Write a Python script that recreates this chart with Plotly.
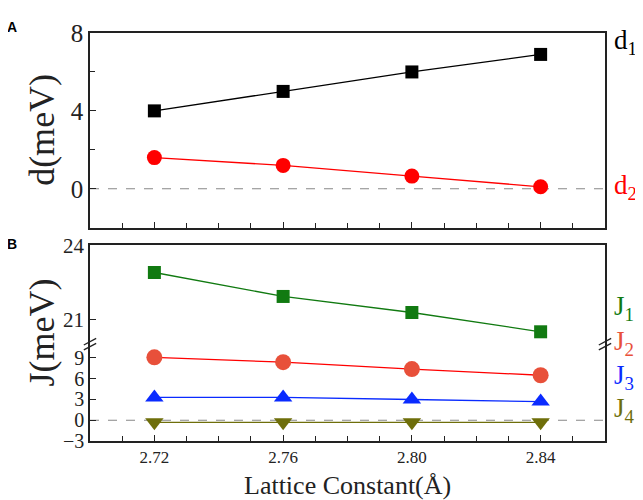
import plotly.graph_objects as go

lattice = [2.72, 2.76, 2.80, 2.84]
d1 = [4.0, 5.0, 6.0, 6.9]
d2 = [1.6, 1.2, 0.65, 0.1]
J1 = [22.9, 21.93, 21.28, 20.5]
J2 = [9.1, 8.4, 7.4, 6.5]
J3 = [3.3, 3.3, 3.0, 2.7]
J4 = [-0.3, -0.3, -0.3, -0.3]
x_ticks = [2.72, 2.76, 2.80, 2.84]
x_ticktext = ["2.72", "2.76", "2.80", "2.84"]

SERIF = "Liberation Serif, Times New Roman, serif"
BLACK = "#000000"
RED = "#ff0000"
GREEN = "#117a11"
TOMATO = "#e8503a"
BLUE = "#0a2bff"
OLIVE = "#6e6e0a"

# page body has an 8px margin: work in reference pixels and shift
OFF = 8
W, H = 643 - OFF, 500 - OFF
L, R, T, B = 90 - OFF, 38, 24 - OFF, 59
PW, PH = W - L - R, H - T - B

def px(xr):
    return (xr - OFF - L) / PW

def py(yr):
    return 1 - (yr - OFF - T) / PH

fig = go.Figure()

def tr(y, color, symbol, size, xa, ya, mcolor=None):
    fig.add_trace(go.Scatter(
        x=lattice, y=y, mode="lines+markers", xaxis=xa, yaxis=ya,
        line=dict(color=color, width=1.3),
        marker=dict(symbol=symbol, size=size, color=mcolor or color),
        showlegend=False, cliponaxis=False))

tr(d1, BLACK, "square", 13, "x", "y")
tr(d2, RED, "circle", 15, "x", "y")
tr(J1, GREEN, "square", 13, "x3", "y3")
tr(J2, RED, "circle", 16, "x2", "y2", TOMATO)
tr(J3, BLUE, "triangle-up", 16, "x2", "y2")
tr(J4, OLIVE, "triangle-down", 16, "x2", "y2")

xcommon = dict(range=[2.70, 2.86], showline=True, linecolor="#222", linewidth=1.5,
               ticks="inside", ticklen=6, tickcolor="#222",
               tickvals=x_ticks, showgrid=False, zeroline=False,
               minor=dict(dtick=0.01, tick0=2.70, ticks="inside", ticklen=5, tickcolor="#222"))

dom_A = [py(223), 1.0]
dom_Bu = [py(342), py(241)]
dom_Bl = [0.0, py(342)]

fig.update_layout(
    width=W, height=H,
    margin=dict(l=L, r=R, t=T, b=B),
    plot_bgcolor="white", paper_bgcolor="white",
    font=dict(family=SERIF, color="#222"),
    xaxis=dict(**xcommon, domain=[0, 1], anchor="y", mirror=True, showticklabels=False),
    yaxis=dict(domain=dom_A, anchor="x", range=[-2, 8], showline=True, mirror=True,
               linecolor="#222", linewidth=1.5, ticks="inside", ticklen=6, tickcolor="#222",
               tickvals=[0, 4, 8], tickfont=dict(size=25, family=SERIF),
               showgrid=False, zeroline=False,
               minor=dict(tickvals=[2, 6], ticks="inside", ticklen=5, tickcolor="#222")),
    xaxis2=dict(**xcommon, domain=[0, 1], anchor="y2", mirror=False, ticktext=x_ticktext,
                tickfont=dict(size=17, family=SERIF)),
    yaxis2=dict(domain=dom_Bl, anchor="x2", range=[-3, 11], showline=True, mirror=True,
                linecolor="#222", linewidth=1.5, ticks="inside", ticklen=6, tickcolor="#222",
                tickvals=[-3, 0, 3, 6, 9], tickfont=dict(size=20, family=SERIF),
                showgrid=False, zeroline=False),
    xaxis3=dict(range=[2.70, 2.86], domain=[0, 1], anchor="y3", side="top",
                showline=True, linecolor="#222", linewidth=1.5, ticks="",
                showticklabels=False, showgrid=False, zeroline=False, matches="x2"),
    yaxis3=dict(domain=dom_Bu, anchor="x3", range=[20, 24], showline=True, mirror=True,
                linecolor="#222", linewidth=1.5, ticks="inside", ticklen=6, tickcolor="#222",
                tickvals=[21, 24], tickfont=dict(size=21, family=SERIF),
                showgrid=False, zeroline=False),
)

# dashed zero lines
for xr, yr in [("x domain", "y"), ("x2 domain", "y2")]:
    fig.add_shape(type="line", xref=xr, yref=yr, x0=0, x1=1, y0=0, y1=0,
                  line=dict(color="#888", width=1.2, dash="dash"), layer="below")

# break marks
ybrk = dom_Bu[0]
for xp in [0, 1]:
    for off in [-0.006, 0.006]:
        fig.add_shape(type="line", xref="paper", yref="paper",
                      x0=xp - 0.012, x1=xp + 0.012,
                      y0=ybrk + off - 0.008, y1=ybrk + off + 0.008,
                      line=dict(color="#222", width=1.3))

ann = [
    dict(text="<b>A</b>", x=12, y=18, size=14, color="#000", family="Arial, Liberation Sans, sans-serif"),
    dict(text="<b>B</b>", x=12, y=240, size=14, color="#000", family="Arial, Liberation Sans, sans-serif"),
    dict(text="d<sub>1</sub>", x=625, y=33, size=27, color=BLACK),
    dict(text="d<sub>2</sub>", x=625, y=181, size=27, color=RED),
    dict(text="J<sub>1</sub>", x=624, y=305, size=27, color=GREEN),
    dict(text="J<sub>2</sub>", x=624, y=341, size=27, color=TOMATO),
    dict(text="J<sub>3</sub>", x=624, y=376, size=27, color=BLUE),
    dict(text="J<sub>4</sub>", x=624, y=409, size=27, color=OLIVE),
    dict(text="Lattice Constant(Å)", x=347, y=486, size=26, color="#222"),
]
for a in ann:
    fig.add_annotation(text=a["text"], xref="paper", yref="paper",
                       x=px(a["x"]), y=py(a["y"]),
                       showarrow=False, xanchor="center", yanchor="middle",
                       font=dict(size=a["size"], color=a["color"], family=a.get("family", SERIF)))

for txt, yc in [("d(meV)", 123), ("J(meV)", 330)]:
    fig.add_annotation(text=txt, xref="paper", yref="paper",
                       x=px(42), y=py(yc),
                       textangle=-90, showarrow=False, xanchor="center", yanchor="middle",
                       font=dict(size=36, color="#222", family=SERIF))

fig.write_html("out.html")
